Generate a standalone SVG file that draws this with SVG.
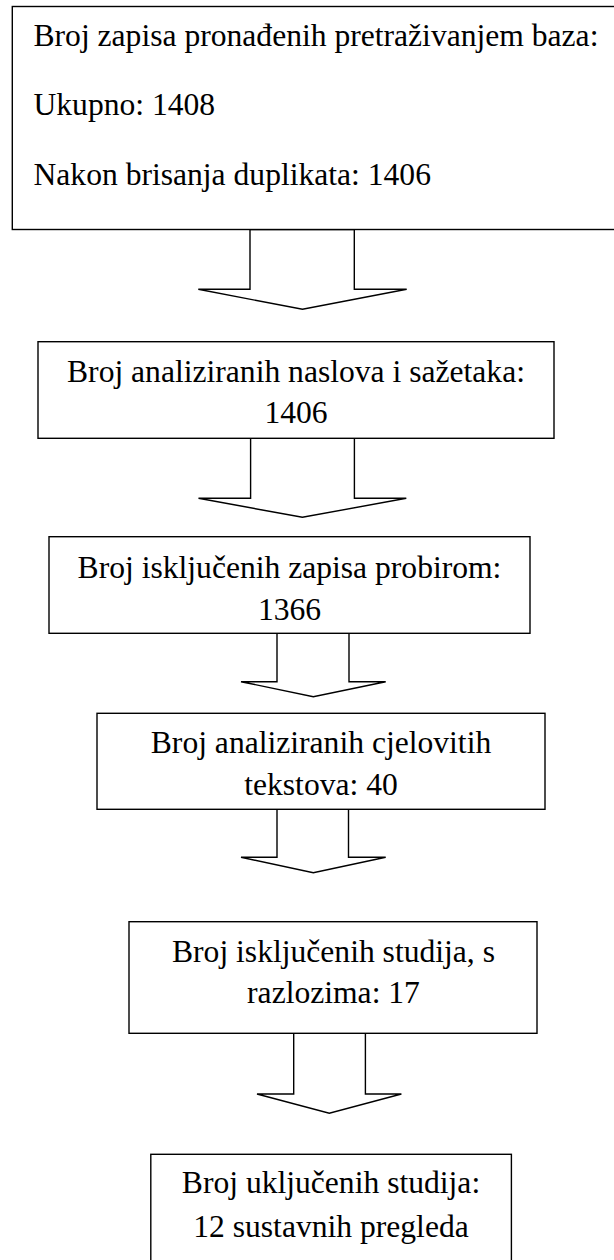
<svg xmlns="http://www.w3.org/2000/svg" width="614" height="1260" viewBox="0 0 614 1260">
<style>
.box{fill:#fff;stroke:#000;stroke-width:1.4}
.arr{fill:#fff;stroke:#000;stroke-width:1.4;stroke-linejoin:miter}
.t{font-size:31.6px;fill:#000}
.c{text-anchor:middle}
</style>
<rect width="614" height="1260" fill="#fff"/>
<g id="connectors">
<polygon class="arr" points="250,229.5 250,289.3 198.3,289.3 302.5,309.3 406.7,289.3 354.3,289.3 354.3,229.5"/>
<polygon class="arr" points="250.6,438.3 250.6,498.3 198.5,498.3 302.4,517.3 406.3,498.3 354.4,498.3 354.4,438.3"/>
<polygon class="arr" points="277,633.3 277,681.7 241,681.7 313.3,696.7 385.7,681.7 349,681.7 349,633.3"/>
<polygon class="arr" points="277,809.3 277,857.3 241,857.3 313.3,872.7 385.7,857.3 348.5,857.3 348.5,809.3"/>
<polygon class="arr" points="293.7,1033.3 293.7,1094 257,1094 329.3,1113.3 401.4,1094 365.4,1094 365.4,1033.3"/>
</g>
<g font-family="Liberation Serif, DejaVu Serif, serif">
<g id="n1">
<rect class="box" x="12.3" y="6.5" width="620" height="223"/>
<text class="t" x="33.5" y="45.5">Broj zapisa pronađenih pretraživanjem baza:</text>
<text class="t" x="33.5" y="115">Ukupno: 1408</text>
<text class="t" x="33.5" y="185">Nakon brisanja duplikata: 1406</text>
</g>
<g id="n2">
<rect class="box" x="38" y="341.7" width="516" height="96.6"/>
<text class="t c" x="296" y="381.7">Broj analiziranih naslova i sažetaka:</text>
<text class="t c" x="296" y="423">1406</text>
</g>
<g id="n3">
<rect class="box" x="49" y="536.7" width="481" height="96.6"/>
<text class="t c" x="289.5" y="578">Broj isključenih zapisa probirom:</text>
<text class="t c" x="289.5" y="620">1366</text>
</g>
<g id="n4">
<rect class="box" x="97" y="713.3" width="448" height="96"/>
<text class="t c" x="321" y="753">Broj analiziranih cjelovitih</text>
<text class="t c" x="321" y="795">tekstova: 40</text>
</g>
<g id="n5">
<rect class="box" x="129" y="921.7" width="408" height="111.6"/>
<text class="t c" x="333.5" y="961.7">Broj isključenih studija, s</text>
<text class="t c" x="333.5" y="1003.3">razlozima: 17</text>
</g>
<g id="n6">
<rect class="box" x="150.8" y="1154.3" width="360.6" height="110"/>
<text class="t c" x="331" y="1193.3">Broj uključenih studija:</text>
<text class="t c" x="331" y="1236.7">12 sustavnih pregleda</text>
</g>
</g>
</svg>
